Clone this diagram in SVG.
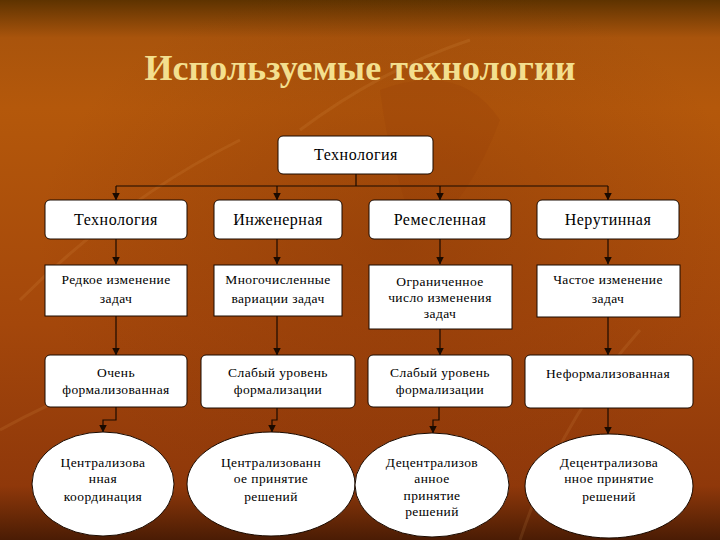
<svg xmlns="http://www.w3.org/2000/svg" width="720" height="540" viewBox="0 0 720 540">
<defs>
<linearGradient id="bg" x1="0" y1="0" x2="0" y2="1">
<stop offset="0" stop-color="#5e3300"/>
<stop offset="0.07" stop-color="#a9540c"/>
<stop offset="0.2" stop-color="#b4580b"/>
<stop offset="0.6" stop-color="#a4470b"/>
<stop offset="0.9" stop-color="#8f380a"/>
<stop offset="1" stop-color="#4a1c04"/>
</linearGradient>
<radialGradient id="shade" cx="0.55" cy="0.45" r="0.5">
<stop offset="0" stop-color="#7a2e06" stop-opacity="0.35"/>
<stop offset="1" stop-color="#7a2e06" stop-opacity="0"/>
</radialGradient>
<marker id="arr" viewBox="0 0 8 8" refX="7.5" refY="4" markerWidth="8" markerHeight="8" markerUnits="userSpaceOnUse" orient="auto">
<path d="M0,0 L8,4 L0,8 z" fill="#1a0a00"/>
</marker>
</defs>
<style>
.box{fill:#ffffff;stroke:#1a0a00;stroke-width:1}
.t{font-family:"Liberation Serif","Times New Roman",serif;fill:#000;text-anchor:middle}
.t1{font-size:16px;letter-spacing:0.5px}
.t2{font-size:13.5px;letter-spacing:0.4px}
.ttl{font-family:"Liberation Serif","Times New Roman",serif;font-size:36px;font-weight:bold;fill:#f3df8e;text-anchor:middle}
.c{fill:none;stroke:#1a0a00;stroke-width:1.2;marker-end:url(#arr)}
.l{fill:none;stroke:#1a0a00;stroke-width:1.2}
</style>
<rect x="0" y="0" width="720" height="540" fill="url(#bg)"/>
<rect x="0" y="0" width="720" height="540" fill="url(#shade)"/>
<g opacity="0.12" fill="none" stroke="#f0b060" stroke-width="3">
<path d="M20,300 Q120,200 240,140"/>
<path d="M520,540 Q560,420 640,330"/>
<path d="M300,130 Q380,70 470,40"/>
<path d="M0,430 Q90,380 180,360"/>
</g>
<path d="M380,90 Q460,60 500,120 Q470,200 420,240 Q390,170 380,90 z" fill="#8a3608" opacity="0.15"/>
<text class="ttl" x="360" y="80">Используемые технологии</text>

<g id="connectors">
<path class="l" d="M356,174 V186 M116,186 H608"/>
<path class="c" d="M116,186 V200"/>
<path class="c" d="M277,186 V200"/>
<path class="c" d="M440,186 V200"/>
<path class="c" d="M608,186 V200"/>
<path class="c" d="M116,239 V264"/>
<path class="c" d="M277,239 V264"/>
<path class="c" d="M440,239 V264"/>
<path class="c" d="M608,239 V264"/>
<path class="c" d="M116,316 V355"/>
<path class="c" d="M277,316 V355"/>
<path class="c" d="M440,329 V355"/>
<path class="c" d="M608,317 V355"/>
<path class="c" d="M116,407 V420 H103 V432"/>
<path class="c" d="M277,408 V420 H272 V432"/>
<path class="c" d="M439,407 V420 H433 V433"/>
<path class="c" d="M608,408 V434"/>
</g>

<g id="top"><rect class="box" x="278" y="136" width="155" height="38" rx="5"/><text class="t t1" x="356" y="160">Технология</text></g>

<g id="r1a"><rect class="box" x="45" y="200" width="142" height="39" rx="5"/><text class="t t1" x="116" y="225">Технология</text></g>
<g id="r1b"><rect class="box" x="214" y="200" width="128" height="39" rx="5"/><text class="t t1" x="278" y="225">Инженерная</text></g>
<g id="r1c"><rect class="box" x="369" y="200" width="142" height="39" rx="5"/><text class="t t1" x="440" y="225">Ремесленная</text></g>
<g id="r1d"><rect class="box" x="537" y="200" width="142" height="39" rx="5"/><text class="t t1" x="608" y="225">Нерутинная</text></g>

<g id="r2a"><rect class="box" x="45" y="265" width="142" height="51"/><text class="t t2" x="116" y="284">Редкое изменение</text><text class="t t2" x="116" y="303">задач</text></g>
<g id="r2b"><rect class="box" x="214" y="265" width="128" height="51"/><text class="t t2" x="278" y="284">Многочисленные</text><text class="t t2" x="278" y="303">вариации задач</text></g>
<g id="r2c"><rect class="box" x="369" y="265" width="143" height="64"/><text class="t t2" x="440" y="286">Ограниченное</text><text class="t t2" x="440" y="302">число изменения</text><text class="t t2" x="440" y="318">задач</text></g>
<g id="r2d"><rect class="box" x="537" y="265" width="143" height="52"/><text class="t t2" x="608" y="284">Частое изменение</text><text class="t t2" x="608" y="303">задач</text></g>

<g id="r3a"><rect class="box" x="45" y="355" width="142" height="52" rx="5"/><text class="t t2" x="116" y="377">Очень</text><text class="t t2" x="116" y="394">формализованная</text></g>
<g id="r3b"><rect class="box" x="201" y="355" width="154" height="53" rx="5"/><text class="t t2" x="278" y="377">Слабый уровень</text><text class="t t2" x="278" y="394">формализации</text></g>
<g id="r3c"><rect class="box" x="368" y="355" width="144" height="52" rx="5"/><text class="t t2" x="440" y="377">Слабый уровень</text><text class="t t2" x="440" y="394">формализации</text></g>
<g id="r3d"><rect class="box" x="525" y="355" width="168" height="53" rx="5"/><text class="t t2" x="608" y="378">Неформализованная</text></g>

<g id="e1"><ellipse class="box" cx="103" cy="484" rx="71" ry="52"/><text class="t t2" x="103" y="467">Централизова</text><text class="t t2" x="103" y="483">нная</text><text class="t t2" x="103" y="501">координация</text></g>
<g id="e2"><ellipse class="box" cx="271" cy="484" rx="84" ry="52"/><text class="t t2" x="271" y="467">Централизованн</text><text class="t t2" x="271" y="483">ое принятие</text><text class="t t2" x="271" y="501">решений</text></g>
<g id="e3"><ellipse class="box" cx="432" cy="485" rx="77" ry="52"/><text class="t t2" x="432" y="467">Децентрализов</text><text class="t t2" x="432" y="483">анное</text><text class="t t2" x="432" y="500">принятие</text><text class="t t2" x="432" y="516">решений</text></g>
<g id="e4"><ellipse class="box" cx="609" cy="486" rx="84" ry="52"/><text class="t t2" x="609" y="467">Децентрализова</text><text class="t t2" x="609" y="483">нное принятие</text><text class="t t2" x="609" y="501">решений</text></g>
</svg>
